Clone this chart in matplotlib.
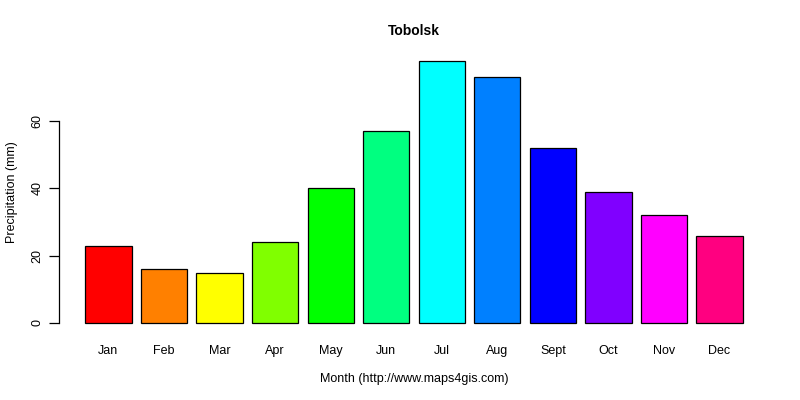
import matplotlib
matplotlib.use("Agg")
import matplotlib.pyplot as plt
import numpy as np

plt.rcParams['font.family'] = ['Liberation Sans', 'DejaVu Sans']

months = ["Jan", "Feb", "Mar", "Apr", "May", "Jun", "Jul", "Aug", "Sept", "Oct", "Nov", "Dec"]
precip = [23, 16, 15, 24, 40, 57, 78, 73, 52, 39, 32, 26]
colors = ["#FF0000", "#FF8000", "#FFFF00", "#80FF00", "#00FF00", "#00FF80",
          "#00FFFF", "#0080FF", "#0000FF", "#8000FF", "#FF00FF", "#FF0080"]
yticks = [0, 20, 40, 60]

fig = plt.figure(figsize=(8, 4), dpi=100)
# plot region in pixels: x 59..769, y 50..333.5 (from top)
ax = fig.add_axes([59 / 800, (400 - 333.5) / 400, 710 / 800, 283.5 / 400])

# R barplot geometry: width 1, space 0.2
x = 0.7 + 1.2 * np.arange(len(months))
ax.bar(x, precip, width=1.0, color=colors, edgecolor="black", linewidth=0.9)

ax.set_xlim(-0.368, 14.968)
ax.set_ylim(-3.12, 81.12)

for s in ["top", "right", "bottom"]:
    ax.spines[s].set_visible(False)
ax.spines["left"].set_bounds(0, 60)
ax.spines["left"].set_linewidth(0.9)

ax.set_yticks(yticks)
ax.set_yticklabels([str(v) for v in yticks], rotation=90, va="center", fontsize=9)
ax.tick_params(axis="y", length=7, width=0.9, pad=4)

ax.set_xticks(x)
ax.set_xticklabels(months, fontsize=9)
ax.tick_params(axis="x", length=0, pad=8)

ax.set_xlabel("Month (http://www.maps4gis.com)", fontsize=9, labelpad=12)
ax.set_ylabel("Precipitation (mm)", fontsize=9, labelpad=10)
ax.set_title("Tobolsk", fontsize=10, fontweight="bold", pad=10.5)

fig.savefig("out.png", dpi=100)
